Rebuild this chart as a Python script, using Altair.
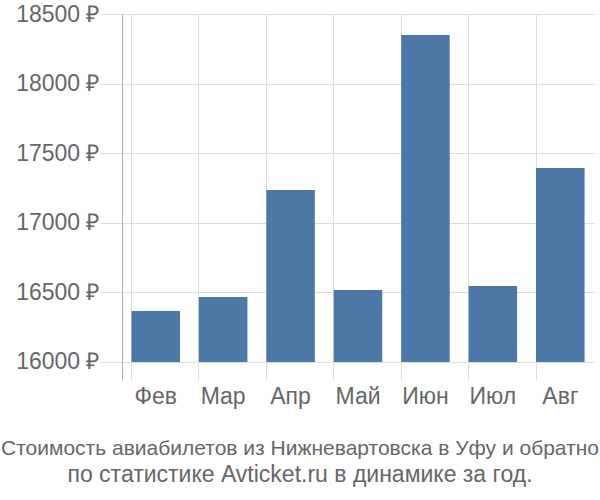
import altair as alt
import pandas as pd

months = ["Фев", "Мар", "Апр", "Май", "Июн", "Июл", "Авг"]
prices = [16366, 16467, 17236, 16517, 18349, 16546, 17394]
y_ticks = [16000, 16500, 17000, 17500, 18000, 18500]

df = pd.DataFrame({"month": months, "price": prices, "base": [16000] * len(months)})

FONT = "Liberation Sans"

chart = alt.Chart(df).mark_bar(color="#4c78a8").encode(
    x=alt.X("month:N", sort=months,
            scale=alt.Scale(paddingInner=0.28, paddingOuter=0.14),
            axis=alt.Axis(title=None, labelAngle=0, labelFontSize=23, labelColor="#666666",
                          labelFont=FONT, domain=False, ticks=False, grid=True,
                          gridColor="#dddddd", bandPosition=0, labelPadding=5)),
    y=alt.Y("price:Q", scale=alt.Scale(domain=[15870, 18500], nice=False, zero=False),
            axis=alt.Axis(title=None, values=y_ticks, labelExpr="datum.value + ' ₽'",
                          labelFontSize=23, labelColor="#666666", labelFont=FONT,
                          domainColor="#aaaaaa", tickColor="#dddddd", tickSize=22,
                          gridColor="#dddddd", labelPadding=1)),
    y2="base:Q",
).properties(
    width=472, height=366,
    autosize=alt.AutoSizeParams(type="none"),
    padding={"left": 122, "top": 14, "right": 6, "bottom": 120},
    title=alt.TitleParams(
        text="Стоимость авиабилетов из Нижневартовска в Уфу и обратно",
        subtitle="по статистике Avticket.ru в динамике за год.",
        orient="bottom", anchor="middle", fontSize=21, font=FONT, color="#666666",
        fontWeight="normal", offset=30, dx=-58,
        subtitleFontSize=23, subtitleFont=FONT, subtitleColor="#666666",
        subtitlePadding=5),
).configure_view(stroke=None)

chart.save("out.html", embed_options={"renderer": "svg", "actions": False})
